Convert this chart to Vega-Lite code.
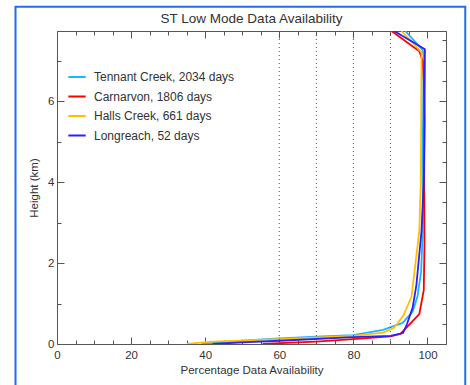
{
  "$schema": "https://vega.github.io/schema/vega-lite/v6.json",
  "autosize": "none",
  "width": 389,
  "height": 313,
  "padding": {"left": 57, "top": 31, "right": 24, "bottom": 41},
  "background": "white",
  "title": {"text": "ST Low Mode Data Availability", "font": "Liberation Sans", "fontSize": 13.5, "fontWeight": "normal", "color": "#333", "offset": 4, "dy": 24},
  "config": {
    "view": {"stroke": null},
    "axis": {"labelFont": "Liberation Sans", "titleFont": "Liberation Sans", "labelColor": "#333", "titleColor": "#333", "labelFontSize": 11.5, "titleFontSize": 11.5, "titleFontWeight": "normal", "domainColor": "#555", "tickColor": "#555", "grid": false}
  },
  "resolve": {"axis": {"x": "independent", "y": "independent"}},
  "layer": [
    {
      "data": {"values": [
        {"site": "Tennant Creek, 2034 days", "pct": 39, "h": 0.0},
        {"site": "Tennant Creek, 2034 days", "pct": 50, "h": 0.08},
        {"site": "Tennant Creek, 2034 days", "pct": 60, "h": 0.14},
        {"site": "Tennant Creek, 2034 days", "pct": 70, "h": 0.18},
        {"site": "Tennant Creek, 2034 days", "pct": 80, "h": 0.22},
        {"site": "Tennant Creek, 2034 days", "pct": 88, "h": 0.35},
        {"site": "Tennant Creek, 2034 days", "pct": 93.3, "h": 0.52},
        {"site": "Tennant Creek, 2034 days", "pct": 96, "h": 0.8},
        {"site": "Tennant Creek, 2034 days", "pct": 97.3, "h": 1.17},
        {"site": "Tennant Creek, 2034 days", "pct": 98.3, "h": 1.8},
        {"site": "Tennant Creek, 2034 days", "pct": 98.6, "h": 2.5},
        {"site": "Tennant Creek, 2034 days", "pct": 98.8, "h": 3.5},
        {"site": "Tennant Creek, 2034 days", "pct": 98.6, "h": 4.5},
        {"site": "Tennant Creek, 2034 days", "pct": 98.8, "h": 5.5},
        {"site": "Tennant Creek, 2034 days", "pct": 98.9, "h": 6.5},
        {"site": "Tennant Creek, 2034 days", "pct": 99.0, "h": 7.1},
        {"site": "Tennant Creek, 2034 days", "pct": 98.7, "h": 7.26},
        {"site": "Tennant Creek, 2034 days", "pct": 94, "h": 7.73},
        {"site": "Carnarvon, 1806 days", "pct": 55.5, "h": 0.0},
        {"site": "Carnarvon, 1806 days", "pct": 60, "h": 0.02},
        {"site": "Carnarvon, 1806 days", "pct": 70, "h": 0.06},
        {"site": "Carnarvon, 1806 days", "pct": 80, "h": 0.12},
        {"site": "Carnarvon, 1806 days", "pct": 90, "h": 0.19},
        {"site": "Carnarvon, 1806 days", "pct": 92.7, "h": 0.25},
        {"site": "Carnarvon, 1806 days", "pct": 97.8, "h": 0.74},
        {"site": "Carnarvon, 1806 days", "pct": 99, "h": 1.33},
        {"site": "Carnarvon, 1806 days", "pct": 99.2, "h": 2.5},
        {"site": "Carnarvon, 1806 days", "pct": 99.1, "h": 4},
        {"site": "Carnarvon, 1806 days", "pct": 99.2, "h": 5.5},
        {"site": "Carnarvon, 1806 days", "pct": 99.0, "h": 6.5},
        {"site": "Carnarvon, 1806 days", "pct": 98.7, "h": 7.0},
        {"site": "Carnarvon, 1806 days", "pct": 97.8, "h": 7.23},
        {"site": "Carnarvon, 1806 days", "pct": 90.3, "h": 7.73},
        {"site": "Halls Creek, 661 days", "pct": 35, "h": 0.0},
        {"site": "Halls Creek, 661 days", "pct": 42, "h": 0.06},
        {"site": "Halls Creek, 661 days", "pct": 60, "h": 0.12},
        {"site": "Halls Creek, 661 days", "pct": 80, "h": 0.2},
        {"site": "Halls Creek, 661 days", "pct": 88, "h": 0.28},
        {"site": "Halls Creek, 661 days", "pct": 91, "h": 0.4},
        {"site": "Halls Creek, 661 days", "pct": 93.5, "h": 0.7},
        {"site": "Halls Creek, 661 days", "pct": 95.7, "h": 1.17},
        {"site": "Halls Creek, 661 days", "pct": 97.8, "h": 2.8},
        {"site": "Halls Creek, 661 days", "pct": 98.2, "h": 4},
        {"site": "Halls Creek, 661 days", "pct": 98.3, "h": 5.5},
        {"site": "Halls Creek, 661 days", "pct": 98.4, "h": 7.2},
        {"site": "Halls Creek, 661 days", "pct": 93, "h": 7.73},
        {"site": "Longreach, 52 days", "pct": 42, "h": 0.0},
        {"site": "Longreach, 52 days", "pct": 50, "h": 0.04},
        {"site": "Longreach, 52 days", "pct": 60, "h": 0.08},
        {"site": "Longreach, 52 days", "pct": 80, "h": 0.17},
        {"site": "Longreach, 52 days", "pct": 90, "h": 0.2},
        {"site": "Longreach, 52 days", "pct": 93.4, "h": 0.27},
        {"site": "Longreach, 52 days", "pct": 94.5, "h": 0.5},
        {"site": "Longreach, 52 days", "pct": 96, "h": 0.9},
        {"site": "Longreach, 52 days", "pct": 97, "h": 1.45},
        {"site": "Longreach, 52 days", "pct": 98.4, "h": 2.8},
        {"site": "Longreach, 52 days", "pct": 99, "h": 4},
        {"site": "Longreach, 52 days", "pct": 99.2, "h": 5.5},
        {"site": "Longreach, 52 days", "pct": 99.3, "h": 7.28},
        {"site": "Longreach, 52 days", "pct": 91, "h": 7.73}
      ]},
      "mark": {"type": "line", "strokeWidth": 1.8, "clip": true},
      "encoding": {
        "x": {"field": "pct", "type": "quantitative", "scale": {"domain": [0, 105], "nice": false, "zero": false},
          "axis": {"orient": "bottom", "title": "Percentage Data Availability", "values": [0,5,10,15,20,25,30,35,40,45,50,55,60,65,70,75,80,85,90,95,100,105],
            "labelExpr": "datum.value % 20 === 0 ? datum.label : ''", "tickSize": {"condition": {"test": "datum.value % 20 === 0", "value": -7}, "value": -4}, "labelPadding": 12, "titlePadding": 4, "labelFlush": false}},
        "y": {"field": "h", "type": "quantitative", "scale": {"domain": [0, 7.73], "nice": false, "zero": false},
          "axis": {"orient": "left", "title": "Height (km)", "format": "d", "values": [0,0.5,1,1.5,2,2.5,3,3.5,4,4.5,5,5.5,6,6.5,7,7.5],
            "labelExpr": "datum.value % 2 === 0 ? datum.label : ''", "tickSize": {"condition": {"test": "datum.value % 2 === 0", "value": -7}, "value": -4}, "labelPadding": 10, "titlePadding": 8, "labelFlush": false}},
        "color": {"field": "site", "type": "nominal",
          "scale": {"domain": ["Tennant Creek, 2034 days", "Carnarvon, 1806 days", "Halls Creek, 661 days", "Longreach, 52 days"], "range": ["#1EB4FF", "#FF0000", "#FFC000", "#2B1EFF"]},
          "legend": {"title": null, "orient": "none", "legendX": 10, "legendY": 36, "symbolType": "stroke", "symbolSize": 300, "symbolStrokeWidth": 2, "labelFont": "Liberation Sans", "labelFontSize": 12, "labelColor": "#333", "rowPadding": 3.5, "labelOffset": 7}},
        "order": {"field": "h", "type": "quantitative"}
      }
    },
    {
      "data": {"values": [{"pct": 60}, {"pct": 70}, {"pct": 80}, {"pct": 90}]},
      "mark": {"type": "rule", "color": "#555", "strokeDash": [1, 3], "strokeWidth": 1},
      "encoding": {
        "x": {"field": "pct", "type": "quantitative", "scale": {"domain": [0, 105], "nice": false, "zero": false},
          "axis": {"orient": "top", "title": null, "labels": false, "values": [0,5,10,15,20,25,30,35,40,45,50,55,60,65,70,75,80,85,90,95,100,105],
            "tickSize": {"condition": {"test": "datum.value % 20 === 0", "value": -7}, "value": -4}}},
        "y": {"datum": 0, "type": "quantitative", "scale": {"domain": [0, 7.73], "nice": false, "zero": false},
          "axis": {"orient": "right", "title": null, "labels": false, "values": [0,0.5,1,1.5,2,2.5,3,3.5,4,4.5,5,5.5,6,6.5,7,7.5],
            "tickSize": {"condition": {"test": "datum.value % 2 === 0", "value": -7}, "value": -4}}},
        "y2": {"datum": 7.73}
      }
    },
    {
      "data": {"values": [{}]},
      "mark": {"type": "rect", "fill": null, "fillOpacity": 0, "stroke": "#1F6FEA", "strokeWidth": 2, "clip": false},
      "encoding": {
        "x": {"datum": -11.2, "type": "quantitative", "axis": null},
        "x2": {"datum": 110.2},
        "y": {"datum": 8.33, "type": "quantitative", "axis": null},
        "y2": {"datum": -1.3}
      }
    }
  ]
}
